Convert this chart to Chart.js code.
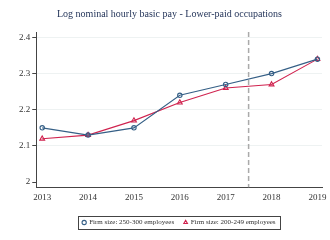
<!DOCTYPE html>
<html>
<head>
  <title>Log nominal hourly basic pay</title>
  <script src="https://cdn.jsdelivr.net/npm/chart.js"></script>
  <style>
    body { margin: 0; background: #fff; }
    #wrap { width: 330px; height: 240px; }
  </style>
</head>
<body>
  <div id="wrap"><canvas id="chart"></canvas></div>

  <script>
    const years = [2013, 2014, 2015, 2016, 2017, 2018, 2019];
    const large = [2.15, 2.13, 2.15, 2.24, 2.27, 2.30, 2.34];   // 250-300 employees
    const small = [2.12, 2.13, 2.17, 2.22, 2.26, 2.27, 2.34];   // 200-249 employees
    const yTicks = [2, 2.1, 2.2, 2.3, 2.4];
    const cutoff = 2017.5;

    const blue = '#355f86';
    const red = '#d0234f';

    // dashed vertical marker between 2017 and 2018
    const cutLine = {
      id: 'cutLine',
      beforeDatasetsDraw(chart) {
        const { ctx, chartArea, scales } = chart;
        const x = scales.x.getPixelForValue(cutoff);
        ctx.save();
        ctx.strokeStyle = '#aaaaaa';
        ctx.lineWidth = 1.5;
        ctx.setLineDash([5, 3]);
        ctx.beginPath();
        ctx.moveTo(x, chartArea.top);
        ctx.lineTo(x, chartArea.bottom);
        ctx.stroke();
        ctx.restore();
      }
    };

    // centre the legend under the plot, push it down a little and frame it
    const legendBox = {
      id: 'legendBox',
      afterLayout(chart) {
        const l = chart.legend;
        l.left = chart.chartArea.left;
        l.right = chart.chartArea.right;
        l.top += 5;
        l.bottom += 5;
      },
      afterDraw(chart) {
        const ctx = chart.ctx;
        ctx.save();
        ctx.strokeStyle = '#444';
        ctx.lineWidth = 1;
        ctx.strokeRect(78.5, 216.5, 202, 13);
        ctx.restore();
      }
    };

    const ctx = document.getElementById('chart').getContext('2d');
    new Chart(ctx, {
      type: 'line',
      data: {
        datasets: [{
          label: 'Firm size: 250-300 employees',
          data: years.map((y, i) => ({ x: y, y: large[i] })),
          borderColor: blue,
          backgroundColor: 'rgba(0,0,0,0)',
          borderWidth: 1.1,
          pointStyle: 'circle',
          pointRadius: 2.2,
          pointBorderWidth: 1.1,
          pointBorderColor: blue,
          pointBackgroundColor: 'rgba(0,0,0,0)',
          fill: false
        }, {
          label: 'Firm size: 200-249 employees',
          data: years.map((y, i) => ({ x: y, y: small[i] })),
          borderColor: red,
          backgroundColor: 'rgba(0,0,0,0)',
          borderWidth: 1.1,
          pointStyle: 'triangle',
          pointRadius: 2.8,
          pointBorderWidth: 1.1,
          pointBorderColor: red,
          pointBackgroundColor: 'rgba(0,0,0,0)',
          fill: false
        }]
      },
      plugins: [cutLine, legendBox],
      options: {
        responsive: true,
        maintainAspectRatio: false,
        animation: false,
        layout: { padding: { left: 17, right: 8, top: 0, bottom: 9 } },
        plugins: {
          title: {
            display: true,
            text: 'Log nominal hourly basic pay - Lower-paid occupations',
            color: '#1e2f55',
            font: { family: 'Liberation Serif', size: 10, weight: 'normal' },
            padding: { top: 8, bottom: 12 }
          },
          legend: {
            position: 'bottom',
            labels: {
              usePointStyle: true,
              boxWidth: 3,
              boxHeight: 3,
              padding: 10,
              color: '#333',
              font: { family: 'Liberation Serif', size: 7 }
            }
          },
          tooltip: { enabled: false }
        },
        scales: {
          x: {
            type: 'linear',
            min: 2012.87,
            max: 2019.1,
            afterBuildTicks: s => { s.ticks = years.map(v => ({ value: v })); },
            grid: { display: false, drawTicks: true, tickLength: 4, tickColor: '#444' },
            border: { color: '#444', width: 1 },
            ticks: {
              color: '#333',
              padding: 1,
              maxRotation: 0,
              font: { family: 'Liberation Serif', size: 9 },
              callback: v => String(v)
            }
          },
          y: {
            min: 1.986,
            max: 2.415,
            afterBuildTicks: s => { s.ticks = yTicks.map(v => ({ value: v })); },
            grid: {
              color: c => (c.tick && c.tick.value > 2.05 ? '#eef2f2' : 'rgba(0,0,0,0)'),
              tickColor: '#444',
              tickLength: 4
            },
            border: { color: '#444', width: 1 },
            ticks: {
              color: '#333',
              padding: 2,
              font: { family: 'Liberation Serif', size: 9 },
              callback: v => String(Math.round(v * 10) / 10)
            }
          }
        }
      }
    });
  </script>
</body>
</html>
